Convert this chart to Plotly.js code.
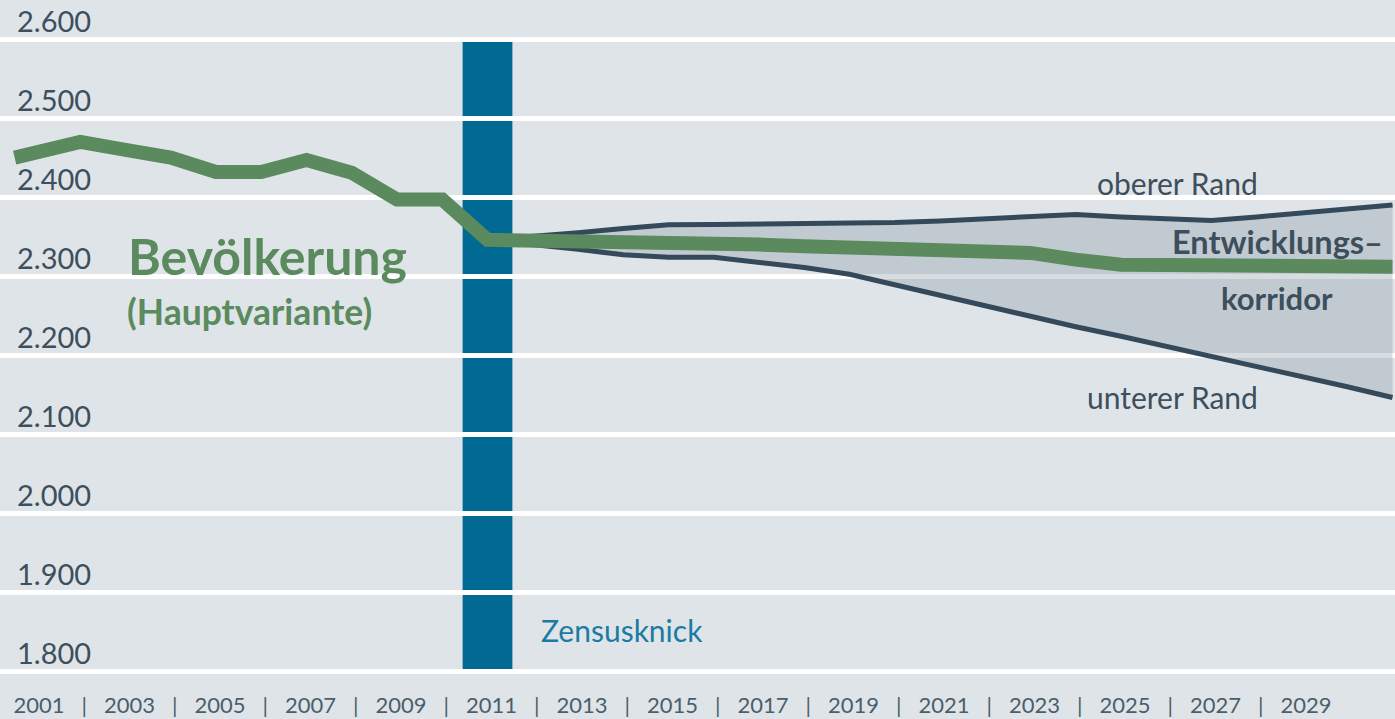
<!DOCTYPE html>
<html>
<head>
<meta charset="utf-8">
<script src="https://cdn.plot.ly/plotly-3.0.1.min.js"></script>
<style>
  html, body { margin: 0; padding: 0; background: #dfe4e8; }
  #chart { width: 1395px; height: 719px; }
</style>
</head>
<body>
<div id="chart"></div>
<script>
// ---- data ----
const histYears  = [2000.55, 2002, 2003, 2004, 2005, 2006, 2007, 2008, 2009, 2010, 2011];
const histValues = [2451, 2471, 2461, 2451, 2433, 2433, 2448, 2432, 2398, 2398, 2347];

const projYears  = [2011, 2012, 2013, 2014, 2015, 2016, 2017, 2018, 2019, 2020, 2021,
                    2022, 2023, 2024, 2025, 2026, 2027, 2028, 2029, 2030, 2031];
const projMain   = [2347, 2346.5, 2346, 2345.5, 2344.5, 2343, 2341, 2339, 2336.5, 2334.5, 2332,
                    2330.5, 2330.5, 2322, 2315.5, 2315, 2315, 2314.5, 2314, 2313.5, 2313];
const projUpper  = [2347, 2351, 2356, 2361.5, 2366, 2366.5, 2367, 2368, 2368.5, 2369, 2371,
                    2374, 2377, 2379, 2376, 2373.5, 2371.5, 2376, 2381, 2386, 2391];
const projLower  = [2347, 2341.5, 2335, 2328, 2325, 2325, 2319, 2312, 2303.5, 2290, 2276.5,
                    2263, 2250, 2237, 2225, 2212.5, 2200, 2187, 2174, 2161, 2147.5];

const zensusYear = 2011;

const yTickVals = [1800, 1900, 2000, 2100, 2200, 2300, 2400, 2500, 2600];
const yTickText = ['1.800', '1.900', '2.000', '2.100', '2.200', '2.300', '2.400', '2.500', '2.600'];

const xTickVals = [2001, 2002, 2003, 2004, 2005, 2006, 2007, 2008, 2009, 2010, 2011, 2012, 2013, 2014, 2015,
                   2016, 2017, 2018, 2019, 2020, 2021, 2022, 2023, 2024, 2025, 2026, 2027, 2028, 2029];
const xTickText = ['2001', '|', '2003', '|', '2005', '|', '2007', '|', '2009', '|', '2011', '|', '2013', '|', '2015',
                   '|', '2017', '|', '2019', '|', '2021', '|', '2023', '|', '2025', '|', '2027', '|', '2029'];

// ---- styles ----
const BG = '#dfe4e8';
const GREEN = '#5a8a5d';
const DARK = '#34495a';
const TEXT = '#3d4f5c';
const BLUE = '#006a94';
const FONT = 'Lato, "Open Sans", sans-serif';
const NARROW = '"Liberation Sans Narrow", "Arial Narrow", Lato, sans-serif';

const W = 1395, H = 719, MB = 40;
const PH = H - MB;
const px = v => v / W;
const py = v => (PH - v) / PH;

const mainX = histYears.concat(projYears.slice(1));
const mainY = histValues.concat(projMain.slice(1));

const traces = [
  { x: projYears, y: projLower, type: 'scatter', mode: 'lines',
    line: { color: DARK, width: 5 }, hoverinfo: 'skip' },
  { x: projYears, y: projUpper, type: 'scatter', mode: 'lines', fill: 'tonexty',
    fillcolor: 'rgba(139,152,165,0.34)', line: { color: DARK, width: 5 }, hoverinfo: 'skip' },
  { x: mainX, y: mainY, type: 'scatter', mode: 'lines',
    line: { color: GREEN, width: 14 }, hoverinfo: 'skip' }
];

const annFont = (size, color, weight) => ({ family: FONT, size: size, color: color, weight: weight || 400 });

const layout = {
  width: W, height: H,
  margin: { l: 0, r: 0, t: 0, b: MB, pad: 0 },
  paper_bgcolor: BG, plot_bgcolor: BG,
  showlegend: false,
  xaxis: {
    range: [2000.2265, 2031.055],
    tickvals: xTickVals, ticktext: xTickText,
    showgrid: false, zeroline: false, showline: false, ticks: '',
    tickfont: { family: NARROW, size: 22, color: '#4b5e6b' },
    ticklabelshift: 4, ticklabelstandoff: 11, ticklabeloverflow: 'allow',
    fixedrange: true
  },
  yaxis: {
    range: [1791.1, 2650.6],
    tickvals: yTickVals, ticktext: yTickText,
    showgrid: true, gridcolor: '#ffffff', gridwidth: 5,
    zeroline: false, showline: false, ticks: '',
    ticklabelposition: 'inside', ticklabelshift: -18, ticklabelstandoff: 14,
    ticklabeloverflow: 'allow',
    tickfont: { family: FONT, size: 29, color: TEXT },
    fixedrange: true
  },
  shapes: [
    { type: 'rect', layer: 'below', xref: 'x', yref: 'y',
      x0: zensusYear - 0.55, x1: zensusYear + 0.55, y0: 1800, y1: 2600,
      fillcolor: BLUE, line: { width: 0 } }
  ],
  annotations: [
    { text: 'Bevölkerung', xref: 'paper', yref: 'paper', x: px(126), y: py(256),
      xanchor: 'left', yanchor: 'middle', showarrow: false, font: annFont(50, GREEN, 700) },
    { text: '(Hauptvariante)', xref: 'paper', yref: 'paper', x: px(125), y: py(311),
      xanchor: 'left', yanchor: 'middle', showarrow: false, font: annFont(35.5, GREEN, 700) },
    { text: 'oberer Rand', xref: 'paper', yref: 'paper', x: px(1260), y: py(183),
      xanchor: 'right', yanchor: 'middle', showarrow: false, font: annFont(30, TEXT) },
    { text: 'unterer Rand', xref: 'paper', yref: 'paper', x: px(1260), y: py(397),
      xanchor: 'right', yanchor: 'middle', showarrow: false, font: annFont(30, TEXT) },
    { text: 'Entwicklungs–', xref: 'paper', yref: 'paper', x: px(1277), y: py(242),
      xanchor: 'center', yanchor: 'middle', showarrow: false, font: annFont(32.5, TEXT, 700) },
    { text: 'korridor', xref: 'paper', yref: 'paper', x: px(1277), y: py(298),
      xanchor: 'center', yanchor: 'middle', showarrow: false, font: annFont(31, TEXT, 700) },
    { text: 'Zensusknick', xref: 'paper', yref: 'paper', x: px(539), y: py(630),
      xanchor: 'left', yanchor: 'middle', showarrow: false, font: annFont(30, '#1b7ba3') }
  ]
};

Plotly.newPlot('chart', traces, layout, { displayModeBar: false, staticPlot: true });
</script>
</body>
</html>
